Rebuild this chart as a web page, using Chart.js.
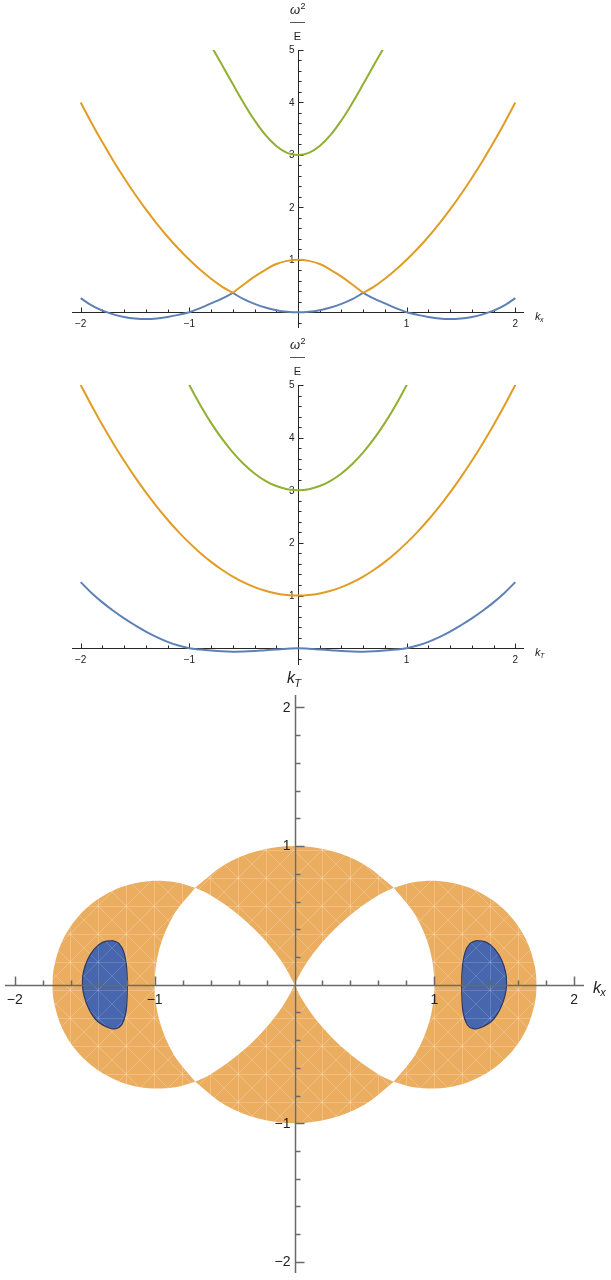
<!DOCTYPE html>
<html>
<head>
<meta charset="utf-8">
<title>Dispersion and unstable region</title>
<script src="https://cdn.jsdelivr.net/npm/chart.js@4.4.1/dist/chart.umd.min.js"></script>
<style>
  html, body { margin: 0; padding: 0; background: #fff; }
  #wrap { position: relative; width: 611px; height: 1280px; }
  canvas { position: absolute; left: 0; }
</style>
</head>
<body>
<div id="wrap">
  <canvas id="kxPlot" width="611" height="332" style="top:0"></canvas>
  <canvas id="kTPlot" width="611" height="336" style="top:332px"></canvas>
  <canvas id="planePlot" width="611" height="612" style="top:668px"></canvas>
</div>
<script>
// momentum grid shared by both dispersion plots
const kGrid = [-2, -1.9, -1.8, -1.7, -1.6, -1.5, -1.4, -1.3, -1.2, -1.1, -1, -0.9, -0.8, -0.7, -0.6, -0.5, -0.4, -0.3, -0.2, -0.1,
  0, 0.1, 0.2, 0.3, 0.4, 0.5, 0.6, 0.7, 0.8, 0.9, 1, 1.1, 1.2, 1.3, 1.4, 1.5, 1.6, 1.7, 1.8, 1.9, 2];

// omega^2/E along k_x (bands cross at k = ±0.6)
const kxLower = [0.27, 0.13, 0.03, -0.04, -0.09, -0.12, -0.13, -0.12, -0.09, -0.05, 0, 0.08, 0.17, 0.26, 0.37, 0.25, 0.16, 0.09, 0.04, 0.01,
  0, 0.01, 0.04, 0.09, 0.16, 0.25, 0.37, 0.26, 0.17, 0.08, 0, -0.05, -0.09, -0.12, -0.13, -0.12, -0.09, -0.04, 0.03, 0.13, 0.27];
const kxMiddle = [4, 3.61, 3.24, 2.89, 2.56, 2.25, 1.96, 1.69, 1.44, 1.21, 1, 0.81, 0.64, 0.49, 0.37, 0.53, 0.68, 0.81, 0.92, 0.98,
  1, 0.98, 0.92, 0.81, 0.68, 0.53, 0.37, 0.49, 0.64, 0.81, 1, 1.21, 1.44, 1.69, 1.96, 2.25, 2.56, 2.89, 3.24, 3.61, 4];
const kxUpperK = [-0.8, -0.7, -0.6, -0.5, -0.4, -0.3, -0.2, -0.1, 0, 0.1, 0.2, 0.3, 0.4, 0.5, 0.6, 0.7, 0.8];
const kxUpper = [5.08, 4.72, 4.35, 3.99, 3.66, 3.38, 3.17, 3.04, 3, 3.04, 3.17, 3.38, 3.66, 3.99, 4.35, 4.72, 5.08];

// omega^2/E along k_T
const kTLower = [1.255, 1.05, 0.87, 0.71, 0.565, 0.435, 0.315, 0.21, 0.12, 0.05, 0, -0.025, -0.045, -0.06, -0.067, -0.065, -0.055, -0.04, -0.025, -0.01,
  0, -0.01, -0.025, -0.04, -0.055, -0.065, -0.067, -0.06, -0.045, -0.025, 0, 0.05, 0.12, 0.21, 0.315, 0.435, 0.565, 0.71, 0.87, 1.05, 1.255];
const kTMiddle = [5, 4.61, 4.24, 3.89, 3.56, 3.25, 2.96, 2.69, 2.44, 2.21, 2, 1.81, 1.64, 1.49, 1.36, 1.25, 1.16, 1.09, 1.04, 1.01,
  1, 1.01, 1.04, 1.09, 1.16, 1.25, 1.36, 1.49, 1.64, 1.81, 2, 2.21, 2.44, 2.69, 2.96, 3.25, 3.56, 3.89, 4.24, 4.61, 5];
const kTUpperK = [-1.1, -1, -0.9, -0.8, -0.7, -0.6, -0.5, -0.4, -0.3, -0.2, -0.1, 0, 0.1, 0.2, 0.3, 0.4, 0.5, 0.6, 0.7, 0.8, 0.9, 1, 1.1];
const kTUpper = [5.42, 5, 4.62, 4.28, 3.98, 3.72, 3.5, 3.32, 3.18, 3.08, 3.02, 3, 3.02, 3.08, 3.18, 3.32, 3.5, 3.72, 3.98, 4.28, 4.62, 5, 5.42];

const kTicks = [-2, -1, 1, 2];
const omegaTicks = [1, 2, 3, 4, 5];
const planeTicks = [-2, -1, 1, 2];

// (k_x, k_T) outlines of the region with one negative omega^2;
// a repeated vertex keeps a cusp sharp under the spline
const leftCrescent = [[-0.71, 0.70], [-0.85, 0.739], [-1.045, 0.747], [-1.237, 0.705], [-1.41, 0.614], [-1.555, 0.482], [-1.66, 0.317],
  [-1.719, 0.13], [-1.73, 0], [-1.719, -0.13], [-1.66, -0.317], [-1.555, -0.482], [-1.41, -0.614], [-1.237, -0.705], [-1.045, -0.747],
  [-0.85, -0.739], [-0.71, -0.70], [-0.71, -0.70], [-0.866, -0.5], [-0.966, -0.259], [-1, 0], [-0.966, 0.259], [-0.866, 0.5], [-0.71, 0.70]];
const rightCrescent = [[0.71, 0.70], [0.85, 0.739], [1.045, 0.747], [1.237, 0.705], [1.41, 0.614], [1.555, 0.482], [1.66, 0.317],
  [1.719, 0.13], [1.73, 0], [1.719, -0.13], [1.66, -0.317], [1.555, -0.482], [1.41, -0.614], [1.237, -0.705], [1.045, -0.747],
  [0.85, -0.739], [0.71, -0.70], [0.71, -0.70], [0.866, -0.5], [0.966, -0.259], [1, 0], [0.966, 0.259], [0.866, 0.5], [0.71, 0.70]];
const upperWedge = [[-0.71, 0.70], [-0.5, 0.866], [-0.259, 0.966], [0, 1], [0.259, 0.966], [0.5, 0.866], [0.71, 0.70], [0.71, 0.70],
  [0.615, 0.655], [0.529, 0.6], [0.447, 0.54], [0.37, 0.477], [0.298, 0.411], [0.227, 0.338], [0.162, 0.262], [0.102, 0.181],
  [0.0475, 0.094], [0, 0], [0, 0], [-0.0475, 0.094], [-0.102, 0.181], [-0.162, 0.262], [-0.227, 0.338], [-0.298, 0.411],
  [-0.37, 0.477], [-0.447, 0.54], [-0.529, 0.6], [-0.615, 0.655], [-0.71, 0.70]];
const lowerWedge = [[-0.71, -0.70], [-0.5, -0.866], [-0.259, -0.966], [0, -1], [0.259, -0.966], [0.5, -0.866], [0.71, -0.70], [0.71, -0.70],
  [0.615, -0.655], [0.529, -0.6], [0.447, -0.54], [0.37, -0.477], [0.298, -0.411], [0.227, -0.338], [0.162, -0.262], [0.102, -0.181],
  [0.0475, -0.094], [0, 0], [0, 0], [-0.0475, -0.094], [-0.102, -0.181], [-0.162, -0.262], [-0.227, -0.338], [-0.298, -0.411],
  [-0.37, -0.477], [-0.447, -0.54], [-0.529, -0.6], [-0.615, -0.655], [-0.71, -0.70]];
// region with two negative modes
const leftPocket = [[-1.301, 0.319], [-1.254, 0.296], [-1.218, 0.228], [-1.199, 0.108], [-1.196, -0.06], [-1.206, -0.204], [-1.235, -0.288],
  [-1.277, -0.317], [-1.325, -0.312], [-1.409, -0.264], [-1.468, -0.18], [-1.504, -0.084], [-1.516, 0], [-1.511, 0.084], [-1.48, 0.18],
  [-1.432, 0.257], [-1.373, 0.305], [-1.301, 0.319]];
const rightPocket = [[1.301, 0.319], [1.373, 0.305], [1.432, 0.257], [1.48, 0.18], [1.511, 0.084], [1.516, 0], [1.504, -0.084],
  [1.468, -0.18], [1.409, -0.264], [1.325, -0.312], [1.277, -0.317], [1.235, -0.288], [1.206, -0.204], [1.196, -0.06], [1.199, 0.108],
  [1.218, 0.228], [1.254, 0.296], [1.301, 0.319]];

const BLUE = '#5e81b5', ORANGE = '#e19c24', GREEN = '#8fb032';
const FONT = '"Liberation Sans", Arial, sans-serif';

const toPoints = (xs, ys) => xs.map((x, i) => ({x, y: ys[i]}));
const pairs = list => list.map(([x, y]) => ({x, y}));

function curve(xs, ys, color, order) {
  return {
    data: toPoints(xs, ys), showLine: true, borderColor: color, borderWidth: 2,
    pointRadius: 0, tension: 0.4, clip: 0, order
  };
}

// split a band at the crossings so the kinks stay sharp
function branches(ys, color, order) {
  return [[0, 14], [14, 26], [26, 40]].map(([a, b]) =>
    curve(kGrid.slice(a, b + 1), ys.slice(a, b + 1), color, order));
}

function meshPattern(base, alpha) {
  const tile = document.createElement('canvas');
  tile.width = tile.height = 28;
  const t = tile.getContext('2d');
  t.fillStyle = base;
  t.fillRect(0, 0, 28, 28);
  t.strokeStyle = `rgba(255,255,255,${alpha})`;
  t.lineWidth = 1;
  t.beginPath();
  t.moveTo(0, 0); t.lineTo(28, 28);
  t.moveTo(28, 0); t.lineTo(0, 28);
  t.moveTo(14.5, 0); t.lineTo(14.5, 28);
  t.moveTo(0, 14.5); t.lineTo(28, 14.5);
  t.stroke();
  return t.createPattern(tile, 'repeat');
}

// fills closed outlines before the dataset's own line is stroked
const regionFill = {
  id: 'regionFill',
  beforeDatasetDraw(chart, args) {
    const ds = chart.data.datasets[args.index];
    if (!ds.regionColor) return;
    const {ctx, chartArea: area} = chart;
    const line = args.meta.dataset;
    ctx.save();
    ctx.beginPath();
    ctx.rect(area.left, area.top, area.width, area.height);
    ctx.clip();
    ctx.beginPath();
    if (line && typeof line.path === 'function') {
      if (line.updateControlPoints) line.updateControlPoints(area, 'x');
      line.path(ctx);
    } else {
      args.meta.data.forEach((p, i) => (i ? ctx.lineTo(p.x, p.y) : ctx.moveTo(p.x, p.y)));
    }
    ctx.closePath();
    ctx.fillStyle = ds.regionColor;
    ctx.fill();
    ctx.restore();
  }
};

const label = v => (v < 0 ? '\u2212' + Math.abs(v) : String(v));

function subscripted(ctx, x, y, main, sub, size) {
  ctx.textAlign = 'left';
  ctx.textBaseline = 'alphabetic';
  ctx.font = `italic ${size}px ${FONT}`;
  ctx.fillText(main, x, y);
  const w = ctx.measureText(main).width;
  ctx.font = `italic ${Math.round(size * 0.68)}px ${FONT}`;
  ctx.fillText(sub, x + w - size * 0.05, y + size * 0.22);
}

function fraction(ctx, cx, top) {
  ctx.textBaseline = 'alphabetic';
  ctx.font = `italic 13px ${FONT}`;
  const w = ctx.measureText('\u03c9').width;
  ctx.font = `9px ${FONT}`;
  const w2 = ctx.measureText('2').width;
  const x = cx - (w + w2) / 2;
  ctx.textAlign = 'left';
  ctx.font = `italic 13px ${FONT}`;
  ctx.fillText('\u03c9', x, top - 36);
  ctx.font = `9px ${FONT}`;
  ctx.fillText('2', x + w + 0.5, top - 41);
  ctx.fillStyle = '#555';
  ctx.fillRect(Math.round(cx - 8), Math.round(top - 28), 15, 1);
  ctx.fillStyle = '#222';
  ctx.textAlign = 'center';
  ctx.font = `11px ${FONT}`;
  ctx.fillText('E', cx, top - 10.5);
}

// axes through the origin with inward ticks
function drawAxes(chart, o) {
  const {ctx, chartArea: area, scales: {x, y}} = chart;
  const x0 = Math.round(x.getPixelForValue(0)) + 0.5;
  const y0 = Math.round(y.getPixelForValue(0)) + 0.5;
  ctx.save();
  ctx.strokeStyle = o.color;
  ctx.lineWidth = o.width;
  ctx.beginPath();
  ctx.moveTo(area.left, y0); ctx.lineTo(area.right, y0);
  ctx.moveTo(x0, area.top); ctx.lineTo(x0, area.bottom);
  for (let i = Math.round(o.xFrom * 5); i <= Math.round(o.xTo * 5); i++) {
    if (i === 0) continue;
    const px = Math.round(x.getPixelForValue(i / 5)) + 0.5;
    ctx.moveTo(px, y0);
    ctx.lineTo(px, y0 - (i % 5 === 0 ? o.major : o.minor));
  }
  for (let i = Math.round(o.yFrom * 5); i <= Math.round(o.yTo * 5); i++) {
    if (i === 0) continue;
    const py = Math.round(y.getPixelForValue(i / 5)) + 0.5;
    ctx.moveTo(x0, py);
    ctx.lineTo(x0 + (i % 5 === 0 ? o.major : o.minor), py);
  }
  ctx.stroke();

  ctx.fillStyle = '#222';
  ctx.font = o.font;
  ctx.textAlign = 'center';
  ctx.textBaseline = 'alphabetic';
  o.xLabels.forEach(v => ctx.fillText(label(v), x.getPixelForValue(v), y0 + o.xLabelDy));
  ctx.textAlign = 'right';
  ctx.textBaseline = 'middle';
  o.yLabels.forEach(v => ctx.fillText(label(v), x0 - o.yLabelDx, y.getPixelForValue(v) + 0.5));

  subscripted(ctx, area.right + o.xTitle.dx, y0 + o.xTitle.dy, 'k', o.xTitle.sub, o.xTitle.size);
  if (o.yTitle === 'fraction') fraction(ctx, x0 - 1, area.top);
  else subscripted(ctx, x0 - 8.5, area.top - 12, 'k', o.yTitle, o.xTitle.size);
  ctx.restore();
}

const mathAxes = {
  id: 'mathAxes',
  beforeDatasetsDraw(chart, args, opts) { if (!opts.onTop) drawAxes(chart, opts); },
  afterDatasetsDraw(chart, args, opts) { if (opts.onTop) drawAxes(chart, opts); }
};

function baseOptions(pad, xr, yr, axes) {
  return {
    responsive: false, animation: false, devicePixelRatio: 1, events: [],
    layout: {padding: pad},
    scales: {
      x: {type: 'linear', min: xr[0], max: xr[1], display: false},
      y: {type: 'linear', min: yr[0], max: yr[1], display: false}
    },
    plugins: {legend: {display: false}, tooltip: {enabled: false}, mathAxes: axes}
  };
}

const smallAxes = {
  onTop: false, color: '#262626', width: 1, major: 5, minor: 3,
  xFrom: -2, xTo: 2, yFrom: -0.2, yTo: 5,
  xLabels: kTicks, yLabels: omegaTicks, font: `10px ${FONT}`, xLabelDy: 14.5, yLabelDx: 4,
  yTitle: 'fraction'
};

new Chart(document.getElementById('kxPlot'), {
  type: 'scatter',
  data: {
    datasets: [
      ...branches(kxLower, BLUE, 3),
      ...branches(kxMiddle, ORANGE, 2),
      curve(kxUpperK, kxUpper, GREEN, 1)
    ]
  },
  options: baseOptions({left: 72, right: 87, top: 50, bottom: 4}, [-2.08, 2.08], [-0.3, 5],
    {...smallAxes, xTitle: {sub: 'x', size: 11, dx: 11, dy: 7}}),
  plugins: [mathAxes]
});

new Chart(document.getElementById('kTPlot'), {
  type: 'scatter',
  data: {
    datasets: [
      curve(kGrid, kTLower, BLUE, 3),
      curve(kGrid, kTMiddle, ORANGE, 2),
      curve(kTUpperK, kTUpper, GREEN, 1)
    ]
  },
  options: baseOptions({left: 72, right: 87, top: 53, bottom: 3}, [-2.08, 2.08], [-0.32, 5],
    {...smallAxes, xTitle: {sub: 'T', size: 11, dx: 11, dy: 7}}),
  plugins: [mathAxes]
});

const ORANGE_FILL = meshPattern('#ebae60', 0.22);
const BLUE_FILL = meshPattern('#4766ad', 0.16);

function region(list, fill, order) {
  return {
    data: pairs(list), showLine: true, regionColor: fill, pointRadius: 0,
    borderWidth: 0, borderColor: 'rgba(0,0,0,0)', tension: 0.33, order
  };
}
function pocket(list) {
  return {
    data: pairs(list), showLine: true, regionColor: BLUE_FILL, pointRadius: 0,
    borderWidth: 1.2, borderColor: '#2d3a63', tension: 0.35, order: 1
  };
}

new Chart(document.getElementById('planePlot'), {
  type: 'scatter',
  data: {
    datasets: [
      pocket(leftPocket),
      pocket(rightPocket),
      region(leftCrescent, ORANGE_FILL, 2),
      region(rightCrescent, ORANGE_FILL, 2),
      region(upperWedge, ORANGE_FILL, 2),
      region(lowerWedge, ORANGE_FILL, 2)
    ]
  },
  options: baseOptions({left: 5, right: 27, top: 27, bottom: 7}, [-2.07, 2.07], [-2.08, 2.09], {
    onTop: true, color: '#6a6a6a', width: 1.5, major: 9, minor: 5,
    xFrom: -2, xTo: 2, yFrom: -2, yTo: 2,
    xLabels: planeTicks, yLabels: planeTicks, font: `14px ${FONT}`, xLabelDy: 18.5, yLabelDx: 5,
    xTitle: {sub: 'x', size: 16, dx: 9, dy: 7}, yTitle: 'T'
  }),
  plugins: [regionFill, mathAxes]
});
</script>
</body>
</html>
